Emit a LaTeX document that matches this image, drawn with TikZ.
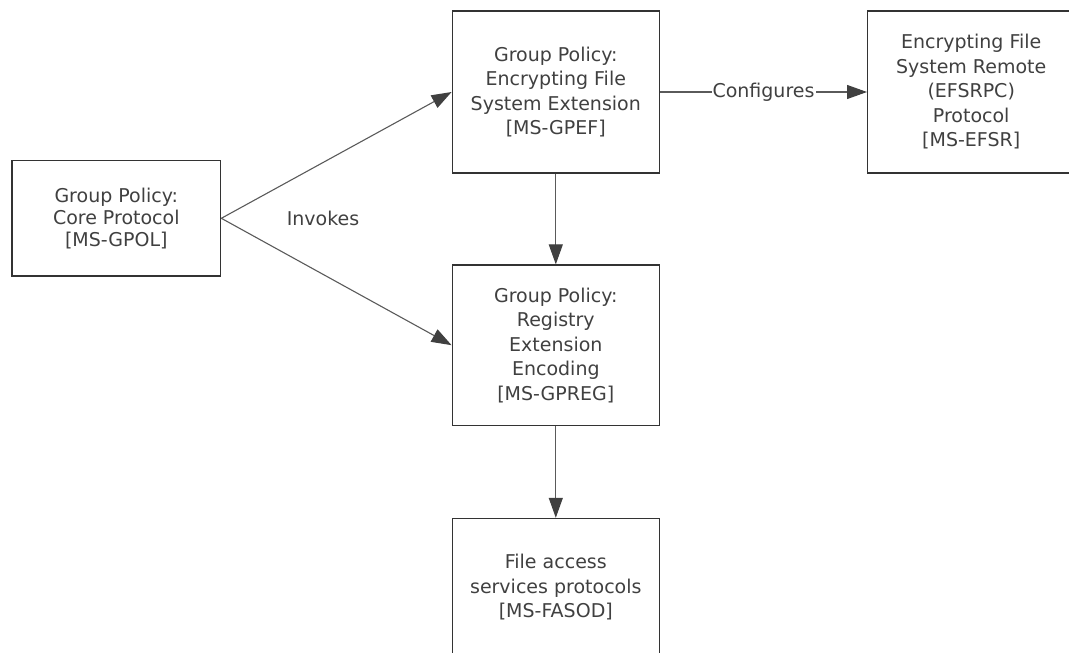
\documentclass[tikz,border=0pt]{standalone}
\usepackage{fontspec}
\setmainfont{DejaVu Sans}
\usetikzlibrary{arrows.meta}
\definecolor{txt}{HTML}{404040}
\definecolor{boxline}{HTML}{333333}
\definecolor{conn}{HTML}{5A5A5A}
\definecolor{tip}{HTML}{404040}
\tikzset{
  box/.style={draw=boxline, line width=1.4pt, fill=white, inner sep=0pt, align=center,
    text=txt, font=\fontsize{19}{24.5}\selectfont},
  conn/.style={draw=conn, line width=1.1pt,
    -{Triangle[length=20pt,width=14pt,fill=tip,color=tip]}},
  lab/.style={text=txt, font=\fontsize{19}{24}\selectfont, inner sep=1pt}
}
\begin{document}
\begin{tikzpicture}[x=1pt,y=-1pt]
\useasboundingbox (0,0) rectangle (1069,653);
\node[box, minimum width=208.7pt, minimum height=115.3pt, font=\fontsize{19}{22}\selectfont] (gpol) at (116.3,218.3) {Group Policy:\\Core Protocol\\{[MS-GPOL]}};
\node[box, minimum width=207pt, minimum height=162pt] (gpef) at (555.8,92) {Group Policy:\\Encrypting File\\System Extension\\{[MS-GPEF]}};
\node[box, minimum width=207pt, minimum height=162pt] (efsr) at (971.2,92) {Encrypting File\\System Remote\\(EFSRPC)\\Protocol\\{[MS-EFSR]}};
\node[box, minimum width=207pt, minimum height=160.3pt] (gpreg) at (555.8,345.2) {Group Policy:\\Registry\\Extension\\Encoding\\{[MS-GPREG]}};
\node[box, minimum width=207pt, minimum height=138pt] (fasod) at (555.8,587.5) {File access\\services protocols\\{[MS-FASOD]}};
\draw[conn] (gpol.east) -- (gpef.west);
\draw[conn] (gpol.east) -- (gpreg.west);
\node[lab] (inv) at (323,218.3) {Invokes};
\draw[conn] (gpef.east) -- node[lab, fill=white] (cfg) {Configures} (efsr.west);
\draw[conn] (gpef.south) -- (gpreg.north);
\draw[conn] (gpreg.south) -- (fasod.north);
\end{tikzpicture}
\end{document}
